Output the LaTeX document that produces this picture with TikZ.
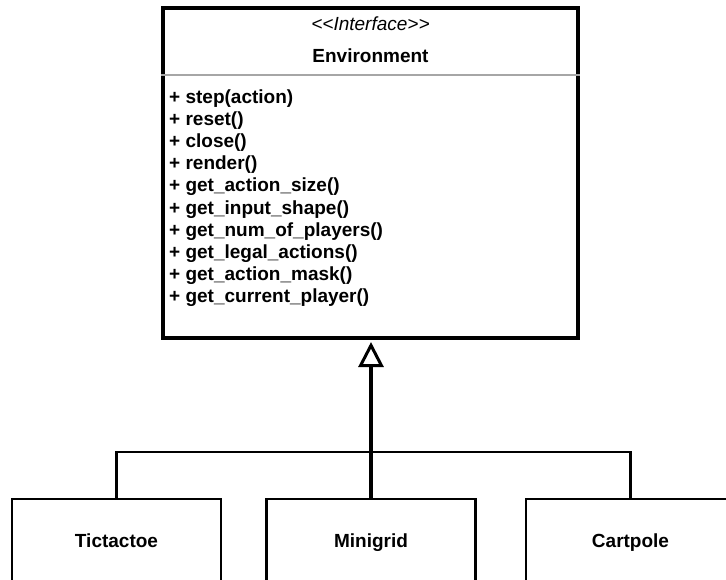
\documentclass[tikz,border=0pt]{standalone}
\usepackage{fontspec}
\setmainfont{Liberation Sans}
\usetikzlibrary{arrows.meta}
\begin{document}
\begin{tikzpicture}[x=1pt,y=1pt,
  umlfont/.style={font=\fontsize{19}{22}\selectfont\bfseries},
  iface/.style={draw=black, line width=4pt, fill=white, minimum width=415pt, minimum height=330pt, inner sep=0pt},
  implbox/.style={draw=black, line width=2.2pt, fill=white, minimum width=209pt, minimum height=84pt, inner sep=0pt, text height=13.6pt, text depth=0pt, umlfont},
  oplabel/.style={anchor=base west, inner sep=0pt, umlfont},
  trunk/.style={line width=3.2pt},
  branch/.style={line width=2.6pt},
  sepline/.style={draw=black!35, line width=1.3pt}
  ]
\useasboundingbox (0,0) rectangle (726,-579);
% interface box
\node[iface] (env) at (370.5,-173) {};
\node[anchor=base, inner sep=0pt, font=\fontsize{19}{22}\selectfont\itshape] (stereo) at (370.5,-30) {\textless\kern0pt\textless\kern0pt Interface\kern0pt\textgreater\kern0pt\textgreater};
\node[anchor=base, inner sep=0pt, umlfont] (name) at (370.5,-62) {Environment};
\draw[sepline] ([yshift=-69pt]env.north west) -- ([yshift=-69pt]env.north east);
% operations
\foreach \txt [count=\i] in {step(action), reset(), close(), render(), get\_action\_size(), get\_input\_shape(), get\_num\_of\_players(), get\_legal\_actions(), get\_action\_mask(), get\_current\_player()}
  \node[oplabel] (op\i) at (169,{-103-22.2*(\i-1)}) {+ \txt};
% implementing classes
\node[implbox] (tic) at (116.5,-541) {Tictactoe};
\node[implbox] (mini) at (371,-541) {Minigrid};
\node[implbox] (cart) at (630.5,-541) {Cartpole};
% connectors
\coordinate (jn) at (371,-452);
\draw[trunk, shorten >=2pt, -{Triangle[open, length=25pt, width=25pt, line width=3pt]}] (mini.north) -- (env.south -| mini.north);
\draw[branch] (tic.north) |- (jn) -| (cart.north);
\end{tikzpicture}
\end{document}
